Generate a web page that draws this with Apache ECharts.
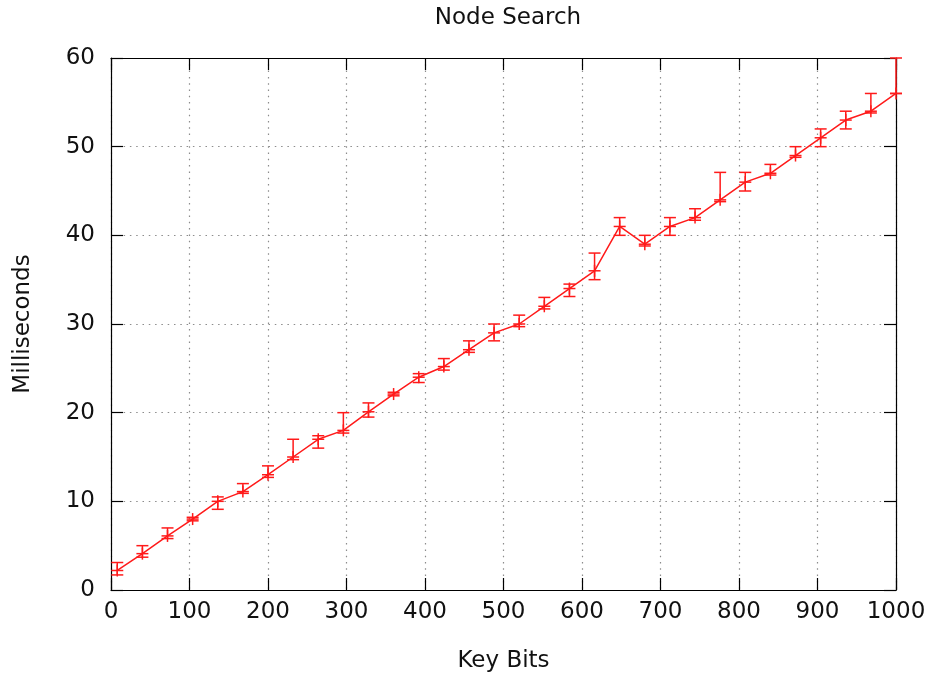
<!DOCTYPE html>
<html>
<head>
<meta charset="utf-8">
<title>Node Search</title>
<script src="https://cdn.jsdelivr.net/npm/echarts@6/dist/echarts.min.js"></script>
<style>
  html, body { margin: 0; padding: 0; background: #ffffff; }
  #chart { width: 934px; height: 679px; }
</style>
</head>
<body>
<div id="chart"></div>
<script>
// Key size in bits for each measurement
const keyBits = [8, 40, 72, 104, 136, 168, 200, 232, 264, 296, 328, 360, 392, 424, 456, 488,
                 520, 552, 584, 616, 648, 680, 712, 744, 776, 808, 840, 872, 904, 936, 968, 1000];
// Mean search time (ms)
const meanMs = [2.2, 4.1, 6.1, 8.0, 10.0, 11.1, 13.0, 15.0, 17.0, 18.0, 20.1, 22.1, 24.0, 25.2, 27.1, 29.0,
                30.0, 32.0, 34.0, 36.0, 41.0, 39.0, 41.0, 42.0, 44.0, 46.0, 47.0, 49.0, 51.0, 53.0, 54.0, 56.0];
// Lower and upper ends of the error bars (ms)
const lowMs  = [1.7, 3.7, 5.8, 7.8, 9.1, 10.9, 12.7, 14.7, 16.0, 17.7, 19.5, 21.9, 23.4, 24.8, 26.8, 28.1,
                29.7, 31.7, 33.1, 35.0, 40.0, 38.8, 40.0, 41.7, 43.8, 45.0, 46.8, 48.8, 50.0, 52.0, 53.8, 56.0];
const highMs = [3.1, 5.0, 7.0, 8.2, 10.5, 12.0, 14.0, 17.0, 17.4, 20.0, 21.1, 22.3, 24.4, 26.1, 28.1, 30.0,
                31.0, 33.0, 34.5, 38.0, 42.0, 40.0, 42.0, 43.0, 47.1, 47.1, 48.0, 50.0, 52.0, 54.0, 56.0, 60.0];
// Axis ticks
const xTicks = { min: 0, max: 1000, step: 100 };
const yTicks = { min: 0, max: 60, step: 10 };

const RED = '#ff1a1a';
const FONT = 'DejaVu Sans';
const TEXT = '#111111';
const FONT_SIZE = 23;

const lineData = keyBits.map((x, i) => [x, meanMs[i]]);
const barData = keyBits.map((x, i) => [x, lowMs[i], highMs[i], meanMs[i]]);

// Error bar with caps plus a "+" point marker, placed through the axis scales
function renderErrorBar(params, api) {
  const x = api.value(0);
  const lo = api.coord([x, api.value(1)]);
  const hi = api.coord([x, api.value(2)]);
  const mid = api.coord([x, api.value(3)]);
  const cap = 6, plus = 6;
  const style = { stroke: RED, lineWidth: 1.5, fill: null };
  const seg = (x1, y1, x2, y2) => ({ type: 'line', shape: { x1, y1, x2, y2 }, style });
  return {
    type: 'group',
    children: [
      seg(lo[0], lo[1], hi[0], hi[1]),
      seg(lo[0] - cap, lo[1], lo[0] + cap, lo[1]),
      seg(hi[0] - cap, hi[1], hi[0] + cap, hi[1]),
      seg(mid[0] - plus, mid[1], mid[0] + plus, mid[1]),
      seg(mid[0], mid[1] - plus, mid[0], mid[1] + plus)
    ]
  };
}

const axisLine = { show: true, onZero: false, lineStyle: { color: '#000000', width: 1.2 } };
const insideTick = { show: true, inside: true, length: 12, lineStyle: { color: '#000000', width: 1.2 } };
const dotted = { show: true, lineStyle: { color: '#8c8c8c', width: 1.2, type: [1.5, 4.8] } };
const labelStyle = { color: TEXT, fontFamily: FONT, fontSize: FONT_SIZE };
const plainNumber = v => String(v);

const chart = echarts.init(document.getElementById('chart'), null, { renderer: 'canvas' });
chart.setOption({
  animation: false,
  backgroundColor: '#ffffff',
  title: {
    text: 'Node Search',
    left: 503,
    top: 2,
    textAlign: 'center',
    textStyle: { color: TEXT, fontFamily: FONT, fontSize: FONT_SIZE, fontWeight: 'normal' }
  },
  grid: { left: 111, right: 38, top: 58, bottom: 89, containLabel: false },
  xAxis: [
    {
      type: 'value', position: 'bottom',
      min: xTicks.min, max: xTicks.max, interval: xTicks.step,
      name: 'Key Bits', nameLocation: 'middle', nameGap: 60,
      nameTextStyle: labelStyle,
      axisLine, axisTick: insideTick,
      axisLabel: Object.assign({ margin: 11, formatter: plainNumber }, labelStyle),
      splitLine: dotted
    },
    {
      type: 'value', position: 'top',
      min: xTicks.min, max: xTicks.max, interval: xTicks.step,
      axisLine, axisTick: insideTick,
      axisLabel: { show: false }, splitLine: { show: false }
    }
  ],
  yAxis: [
    {
      type: 'value', position: 'left',
      min: yTicks.min, max: yTicks.max, interval: yTicks.step,
      name: 'Milliseconds', nameLocation: 'middle', nameGap: 76, nameRotate: 90,
      nameTextStyle: labelStyle,
      axisLine, axisTick: insideTick,
      axisLabel: Object.assign({ margin: 16, formatter: plainNumber }, labelStyle),
      splitLine: dotted
    },
    {
      type: 'value', position: 'right',
      min: yTicks.min, max: yTicks.max, interval: yTicks.step,
      axisLine, axisTick: insideTick,
      axisLabel: { show: false }, splitLine: { show: false }
    }
  ],
  series: [
    {
      type: 'line',
      data: lineData,
      xAxisIndex: 0, yAxisIndex: 0,
      symbol: 'none',
      lineStyle: { color: RED, width: 1.5 },
      z: 3
    },
    {
      type: 'custom',
      data: barData,
      xAxisIndex: 0, yAxisIndex: 0,
      encode: { x: 0, y: [1, 2, 3] },
      renderItem: renderErrorBar,
      clip: false,
      z: 4
    }
  ]
});
</script>
</body>
</html>
